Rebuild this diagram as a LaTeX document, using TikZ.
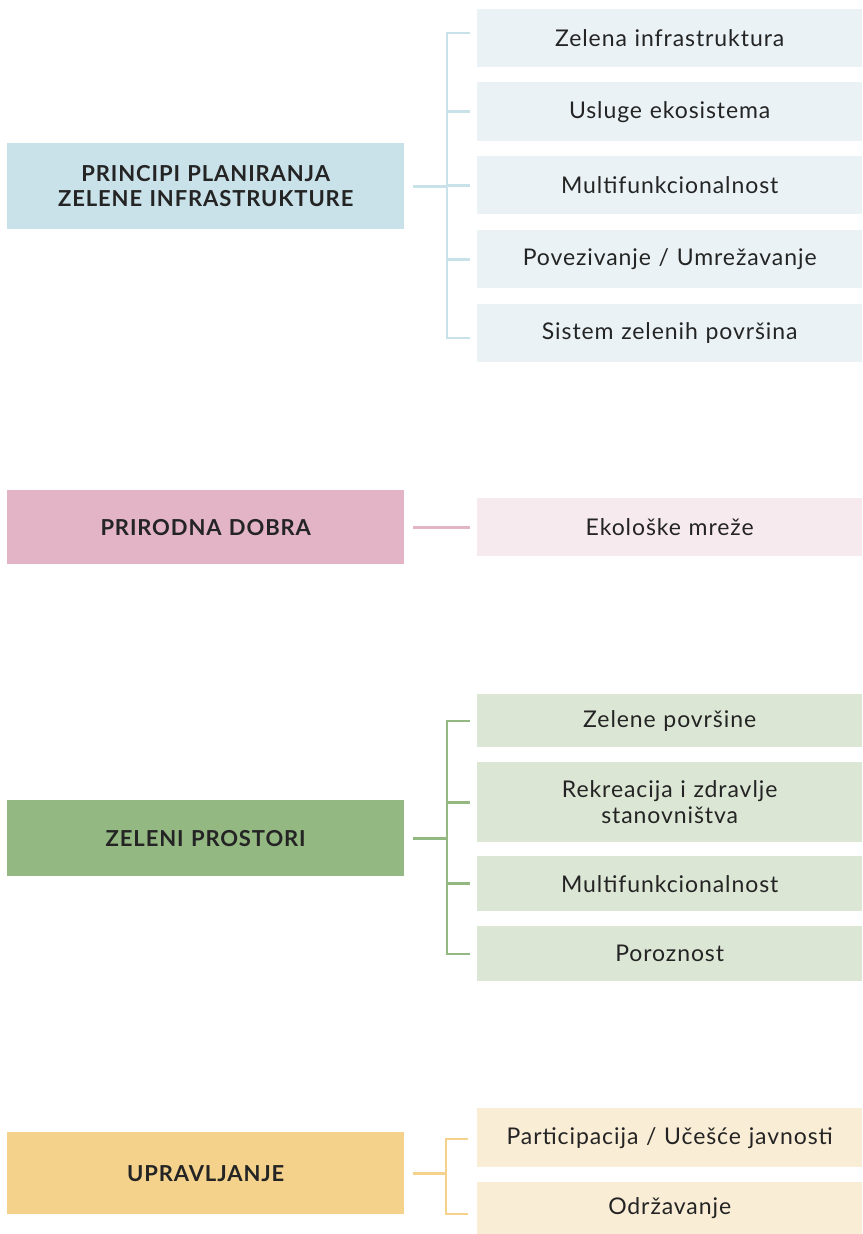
\documentclass[tikz,border=0pt]{standalone}
\usepackage{fontspec}
\setmainfont{Lato}
\newfontfamily\subfont[LetterSpace=4]{Lato}
\newfontfamily\headfont[LetterSpace=4]{Lato Bold}
\definecolor{bM}{HTML}{C9E1E9}
\definecolor{bS}{HTML}{EAF2F5}
\definecolor{pM}{HTML}{E2B4C5}
\definecolor{pS}{HTML}{F7EAEF}
\definecolor{gM}{HTML}{93B882}
\definecolor{gS}{HTML}{DCE6D5}
\definecolor{yM}{HTML}{F4D28C}
\definecolor{yS}{HTML}{FAEDD6}
\definecolor{txt}{HTML}{242424}
\begin{document}
\begin{tikzpicture}[x=1pt,y=-1pt,
  mainbox/.style={anchor=north west, inner sep=0pt, minimum width=397pt, text width=390pt, align=center, font=\headfont\fontsize{22}{25}\selectfont, text=txt},
  subbox/.style={anchor=north west, inner sep=0pt, minimum width=385pt, text width=380pt, align=center, font=\subfont\fontsize{23}{26}\selectfont, text=txt},
  conn/.style={line width=2.8pt}]
\useasboundingbox (0,0) rectangle (862,1234);
% group 1
\node[mainbox, fill=bM, minimum height=86pt] (m1) at (7,143) {PRINCIPI PLANIRANJA\\ZELENE INFRASTRUKTURE};
\node[subbox, fill=bS, minimum height=58pt] (a1) at (477,9) {Zelena infrastruktura};
\node[subbox, fill=bS, minimum height=59pt] (a2) at (477,82) {Usluge ekosistema};
\node[subbox, fill=bS, minimum height=58pt] (a3) at (477,156) {Multifunkcionalnost};
\node[subbox, fill=bS, minimum height=58pt] (a4) at (477,230) {Povezivanje / Umrežavanje};
\node[subbox, fill=bS, minimum height=58pt] (a5) at (477,304) {Sistem zelenih površina};
\coordinate (s1) at (447,186);
\coordinate (s1t) at (447,33);
\coordinate (s1b) at (447,338);
\draw[conn, bM] ([xshift=9pt]m1.east) -- (m1.east -| s1);
\draw[conn, bM] ([xshift=-7pt]a1.west |- s1t) -- (s1t) -- (s1b) -- ([xshift=-7pt]a5.west |- s1b);
\draw[conn, bM] (s1 |- a2.west) -- ([xshift=-7pt]a2.west);
\draw[conn, bM] (s1 |- a3.west) -- ([xshift=-7pt]a3.west);
\draw[conn, bM] (s1 |- a4.west) -- ([xshift=-7pt]a4.west);
% group 2
\node[mainbox, fill=pM, minimum height=74pt] (m2) at (7,490) {PRIRODNA DOBRA};
\node[subbox, fill=pS, minimum height=58pt] (b1) at (477,498) {Ekološke mreže};
\draw[conn, pM] ([xshift=9pt]m2.east) -- ([xshift=-7pt]b1.west);
% group 3
\node[mainbox, fill=gM, minimum height=76pt] (m3) at (7,800) {ZELENI PROSTORI};
\node[subbox, fill=gS, minimum height=53pt] (c1) at (477,694) {Zelene površine};
\node[subbox, fill=gS, minimum height=80pt] (c2) at (477,762) {Rekreacija i zdravlje\\stanovništva};
\node[subbox, fill=gS, minimum height=55pt] (c3) at (477,856) {Multifunkcionalnost};
\node[subbox, fill=gS, minimum height=55pt] (c4) at (477,926) {Poroznost};
\coordinate (s3) at (447,838);
\coordinate (s3t) at (447,721);
\coordinate (s3b) at (447,954);
\draw[conn, gM] ([xshift=9pt]m3.east) -- (m3.east -| s3);
\draw[conn, gM] ([xshift=-7pt]c1.west |- s3t) -- (s3t) -- (s3b) -- ([xshift=-7pt]c4.west |- s3b);
\draw[conn, gM] (s3 |- c2.west) -- ([xshift=-7pt]c2.west);
\draw[conn, gM] (s3 |- c3.west) -- ([xshift=-7pt]c3.west);
% group 4
\node[mainbox, fill=yM, minimum height=82pt] (m4) at (7,1132) {UPRAVLJANJE};
\node[subbox, fill=yS, minimum height=59pt] (d1) at (477,1108) {Participacija / Učešće javnosti};
\node[subbox, fill=yS, minimum height=52pt] (d2) at (477,1182) {Održavanje};
\coordinate (s4) at (446,1174);
\coordinate (s4t) at (446,1139);
\coordinate (s4b) at (446,1214);
\draw[conn, yM] ([xshift=9pt]m4.east) -- (m4.east -| s4);
\draw[conn, yM] ([xshift=-9pt]d1.west |- s4t) -- (s4t) -- (s4b) -- ([xshift=-9pt]d2.west |- s4b);
\end{tikzpicture}
\end{document}
